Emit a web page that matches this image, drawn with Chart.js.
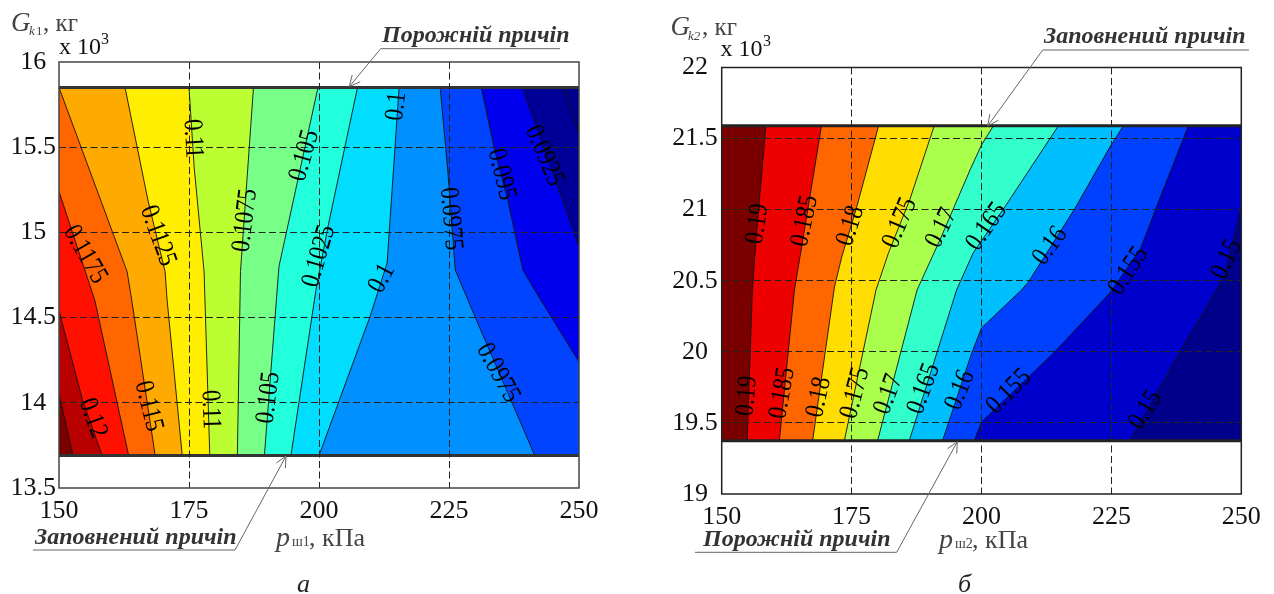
<!DOCTYPE html>
<html>
<head>
<meta charset="utf-8">
<title>Contours</title>
<script src="https://cdn.jsdelivr.net/npm/chart.js@4/dist/chart.umd.js"></script>
<style>
  html, body { margin: 0; padding: 0; background: #fff; overflow: hidden; }
</style>
</head>
<body>
<div style="position:absolute;left:0;top:0;width:637px;height:594px"><canvas id="leftChart"></canvas></div>
<div style="position:absolute;left:637px;top:0;width:637px;height:594px"><canvas id="rightChart"></canvas></div>
<script>
const SERIF = "'Liberation Serif', serif";

// left plot: contour lines as [p, G], each from bottom/right end to top/left end
const leftRangeG = [13.69, 15.85];
const leftLines = [
  [[152.7, 13.69], [150, 14.05]],
  [[158.3, 13.69], [154.5, 14.02], [150, 14.54]],
  [[163.4, 13.69], [156.9, 14.6], [150, 15.24]],
  [[168.5, 13.69], [164, 14.6], [163.1, 14.77], [150, 15.85]],
  [[173.7, 13.69], [170.8, 14.6], [170.4, 14.77], [167.1, 15.19], [162.7, 15.85]],
  [[179, 13.69], [177.9, 14.77], [176, 15.38], [175, 15.85]],
  [[184.3, 13.69], [184.9, 14.77], [187.4, 15.85]],
  [[189.5, 13.69], [192.3, 14.8], [199.8, 15.85]],
  [[194.6, 13.69], [199.4, 14.66], [201.7, 15.03], [207.4, 15.85]],
  [[200, 13.69], [209.8, 14.505], [213.1, 14.82], [215.4, 15.85]],
  [[241.5, 13.69], [230, 14.505], [226.2, 14.78], [224.8, 15.35], [223.3, 15.85]],
  [[250, 14.24], [241.5, 14.66], [239.2, 14.78], [236.3, 15.19], [233.8, 15.48], [231.2, 15.85]],
  [[250, 14.916], [239.1, 15.85]],
  [[250, 15.583], [246.8, 15.85]],
];
const leftColors = [
  "#7a0000", "#b80000", "#ff1000", "#ff6600", "#ffaa00", "#ffee00", "#bbff33", "#77ff88",
  "#22ffdd", "#00ddff", "#0090ff", "#0044ff", "#0000ee", "#000099", "#00008c",
];
// [text, p, G, angle]
const leftLabels = [
  ["0.1175", 155, 14.87, 60],
  ["0.1125", 169, 14.98, 70],
  ["0.11", 175.7, 15.55, 87],
  ["0.1075", 185.8, 15.07, -83],
  ["0.105", 197.2, 15.45, -74],
  ["0.1025", 200, 14.86, -74],
  ["0.1", 214.9, 15.74, -84],
  ["0.1", 212.1, 14.73, -62],
  ["0.0975", 225.3, 15.08, 85],
  ["0.095", 235.1, 15.34, 76],
  ["0.0925", 243.3, 15.45, 67],
  ["0.12", 156.5, 13.91, 70],
  ["0.115", 167.2, 13.98, 76],
  ["0.11", 179.1, 13.96, 88],
  ["0.105", 190.3, 14.03, -83],
  ["0.0975", 234.4, 14.175, 61],
];

// right plot
const rightRangeG = [19.375, 21.59];
const rightLines = [
  [[154.9, 19.375], [155.9, 20.435], [156.6, 20.787], [158.5, 21.59]],
  [[161.1, 19.375], [164, 20.435], [165.4, 20.74], [169.2, 21.59]],
  [[167.5, 19.375], [171.7, 20.456], [173.1, 20.667], [176, 21.02], [180.2, 21.59]],
  [[173.6, 19.375], [179.7, 20.435], [182.1, 20.696], [186.2, 21.07], [190.9, 21.59]],
  [[180, 19.375], [187.6, 20.435], [192, 20.787], [197.8, 21.28], [200, 21.455], [202.3, 21.59]],
  [[186.1, 19.375], [195.2, 20.435], [198.4, 20.696], [204.5, 21.02], [214.8, 21.59]],
  [[192.5, 19.375], [198.1, 19.99], [200, 20.168], [207.7, 20.435], [209, 20.49], [218, 21.01], [224.7, 21.44], [227.3, 21.59]],
  [[198.6, 19.375], [200, 19.507], [214.1, 20], [224.7, 20.414], [230.5, 20.717], [233.7, 21.02], [239.8, 21.59]],
  [[228.6, 19.375], [238.2, 20], [246.7, 20.527], [250, 21.02]],
];
const rightColors = [
  "#7a0000", "#ee0000", "#ff6600", "#ffdd00", "#aaff4d", "#33ffcc", "#00bfff", "#0040ff", "#0000cc", "#00008b",
];
const rightLabels = [
  ["0.19", 156.9, 20.9, -82],
  ["0.185", 166, 20.92, -78],
  ["0.18", 174.8, 20.885, -72],
  ["0.175", 184.3, 20.906, -67],
  ["0.17", 192.3, 20.87, -64],
  ["0.165", 201, 20.88, -55],
  ["0.16", 213.2, 20.745, -54],
  ["0.155", 228.3, 20.57, -57],
  ["0.15", 247.2, 20.65, -65],
  ["0.19", 154.9, 19.69, -85],
  ["0.185", 161.7, 19.71, -80],
  ["0.18", 168.7, 19.68, -78],
  ["0.175", 175.7, 19.71, -75],
  ["0.17", 182.1, 19.7, -70],
  ["0.165", 188.9, 19.74, -70],
  ["0.16", 195.9, 19.73, -68],
  ["0.155", 205.3, 19.72, -45],
  ["0.15", 231.6, 19.59, -58],
];

const toXY = (pts) => pts.map(([x, y]) => ({ x, y }));

// closes a contour line round the cold side of the box, clockwise
function coldSide(line, xMin, xMax, yMin, yMax) {
  const pts = line.slice();
  const first = line[0];
  const last = line[line.length - 1];
  if (last[0] === xMin) pts.push([xMin, yMax]);
  if (last[0] !== xMax) pts.push([xMax, yMax]);
  if (first[1] === yMin) pts.push([xMax, yMin]);
  return pts;
}

function contourDatasets(lines, colors, rangeG, edgeColor) {
  const [gMin, gMax] = rangeG;
  const sets = [];
  const box = [[150, gMin], [150, gMax], [250, gMax], [250, gMin]];
  [box, ...lines.map((l) => coldSide(l, 150, 250, gMin, gMax))].forEach((poly, i) => {
    sets.push({
      data: toXY(poly),
      showLine: true,
      fill: "shape",
      backgroundColor: colors[i],
      borderWidth: 0,
      pointRadius: 0,
      order: 100 - i,
    });
  });
  lines.forEach((l) => {
    sets.push({ data: toXY(l), showLine: true, fill: false, borderColor: "#111", borderWidth: 0.9, pointRadius: 0, order: 5 });
  });
  rangeG.forEach((g) => {
    sets.push({ data: toXY([[150, g], [250, g]]), showLine: true, fill: false, borderColor: edgeColor, borderWidth: 3, pointRadius: 0, order: 1 });
  });
  return sets;
}

function drawArrow(ctx, pts, color) {
  ctx.strokeStyle = color;
  ctx.lineWidth = 1;
  ctx.beginPath();
  pts.forEach(([x, y], i) => (i ? ctx.lineTo(x, y) : ctx.moveTo(x, y)));
  ctx.stroke();
  const [ax, ay] = pts[pts.length - 2];
  const [bx, by] = pts[pts.length - 1];
  const a = Math.atan2(by - ay, bx - ax);
  ctx.beginPath();
  [a + 0.45, a - 0.45].forEach((t) => {
    ctx.moveTo(bx, by);
    ctx.lineTo(bx - 12 * Math.cos(t), by - 12 * Math.sin(t));
  });
  ctx.stroke();
}

// all the text outside the axes ticks, in page pixels
function annotationPlugin(cfg) {
  return {
    id: "annotations",
    afterDraw(chart) {
      const { ctx, chartArea: a, scales } = chart;
      ctx.save();
      ctx.strokeStyle = cfg.frame;
      ctx.lineWidth = 1.5;
      ctx.strokeRect(a.left, a.top, a.right - a.left, a.bottom - a.top);

      ctx.fillStyle = "#000";
      ctx.font = "23px " + SERIF;
      ctx.textAlign = "center";
      ctx.textBaseline = "middle";
      cfg.labels.forEach(([text, p, g, angle]) => {
        ctx.save();
        ctx.translate(scales.x.getPixelForValue(p), scales.y.getPixelForValue(g));
        ctx.rotate((angle * Math.PI) / 180);
        ctx.scale(1, 1.18);
        ctx.fillText(text, 0, 0);
        ctx.restore();
      });

      ctx.translate(-cfg.offset, 0);
      ctx.textAlign = "left";
      ctx.textBaseline = "alphabetic";
      cfg.arrows.forEach((pts) => drawArrow(ctx, pts, "#666"));
      cfg.pieces.forEach(([text, x, y, font, color]) => {
        ctx.font = font + " " + SERIF;
        ctx.fillStyle = color;
        ctx.fillText(text, x, y);
      });
      ctx.restore();
    },
  };
}

function makeChart(id, opt) {
  const tickFont = { family: SERIF, size: 26 };
  // frame is drawn solid by the plugin, so no dashes on the outer ticks
  const gridColor = (min, max) => (c) => (c.tick.value === min || c.tick.value === max ? "transparent" : "#222");
  new Chart(document.getElementById(id), {
    type: "scatter",
    data: { datasets: contourDatasets(opt.lines, opt.colors, opt.rangeG, opt.edge) },
    options: {
      responsive: true,
      maintainAspectRatio: false,
      animation: false,
      layout: { padding: opt.padding },
      plugins: { legend: { display: false }, tooltip: { enabled: false } },
      scales: {
        x: {
          type: "linear",
          min: 150,
          max: 250,
          ticks: { stepSize: 25, color: "#111", font: tickFont, padding: 8, maxRotation: 0, autoSkip: false },
          grid: { color: gridColor(150, 250), z: 1, tickLength: 0 },
          border: { display: false, dash: [7, 3.5] },
          afterFit: (s) => { s.height = opt.axisHeight; },
        },
        y: {
          type: "linear",
          min: opt.yMin,
          max: opt.yMax,
          ticks: { stepSize: 0.5, color: "#111", font: tickFont, padding: opt.yPad, crossAlign: "center", autoSkip: false, callback: (v) => String(v) },
          grid: { color: gridColor(opt.yMin, opt.yMax), z: 1, tickLength: 0 },
          border: { display: false, dash: [7, 3.5] },
          afterFit: (s) => { s.width = opt.axisWidth; },
        },
      },
    },
    plugins: [annotationPlugin(opt.notes)],
  });
}

const plainFont = "26px";
const gray = "#444";

makeChart("leftChart", {
  lines: leftLines,
  colors: leftColors,
  rangeG: leftRangeG,
  edge: "#333",
  yMin: 13.5,
  yMax: 16,
  yPad: 3,
  padding: { left: 0, top: 62, right: 58, bottom: 0 },
  axisWidth: 59,
  axisHeight: 106,
  notes: {
    offset: 0,
    frame: "#444",
    labels: leftLabels,
    arrows: [
      [[560, 48.7], [380.7, 48.7], [349.3, 86.7]],
      [[33, 550], [235, 550], [286, 456]],
    ],
    pieces: [
      ["G", 11, 31, "italic 27px", gray],
      ["k", 29, 35, "italic 13px", gray],
      ["1", 36, 35, "13px", gray],
      [", кг", 43, 31, "25px", gray],
      ["x 10", 59, 54, "24px", "#111"],
      ["3", 101, 44, "16px", "#111"],
      ["Порожній причіп", 382, 42, "italic bold 24px", "#333"],
      ["Заповнений причіп", 35, 544, "italic bold 24px", "#333"],
      ["p", 276, 546, "italic 28px", gray],
      ["ш1", 292, 546, "14px", gray],
      [", кПа", 309, 546, plainFont, gray],
      ["а", 297, 592, "italic 26px", "#222"],
    ],
  },
});

makeChart("rightChart", {
  lines: rightLines,
  colors: rightColors,
  rangeG: rightRangeG,
  edge: "#222",
  yMin: 19,
  yMax: 22,
  yPad: 4,
  padding: { left: 0, top: 67.5, right: 32.7, bottom: 0 },
  axisWidth: 84.7,
  axisHeight: 100,
  notes: {
    offset: 637,
    frame: "#222",
    labels: rightLabels,
    arrows: [
      [[1249, 50], [1042.7, 50], [987.7, 126]],
      [[695, 552.3], [896.7, 552.3], [957.3, 441.7]],
    ],
    pieces: [
      ["G", 670.5, 35, "italic 27px", gray],
      ["k2", 688, 40, "italic 13px", gray],
      [", кг", 702, 35, "25px", gray],
      ["x 10", 720.5, 56, "24px", "#111"],
      ["3", 763, 46, "16px", "#111"],
      ["Заповнений причіп", 1044, 43, "italic bold 24px", "#333"],
      ["Порожній причіп", 703, 546, "italic bold 24px", "#333"],
      ["p", 939, 548, "italic 28px", gray],
      ["ш2", 955, 548, "14px", gray],
      [", кПа", 972, 548, plainFont, gray],
      ["б", 958, 592, "italic 26px", "#222"],
    ],
  },
});
</script>
</body>
</html>
